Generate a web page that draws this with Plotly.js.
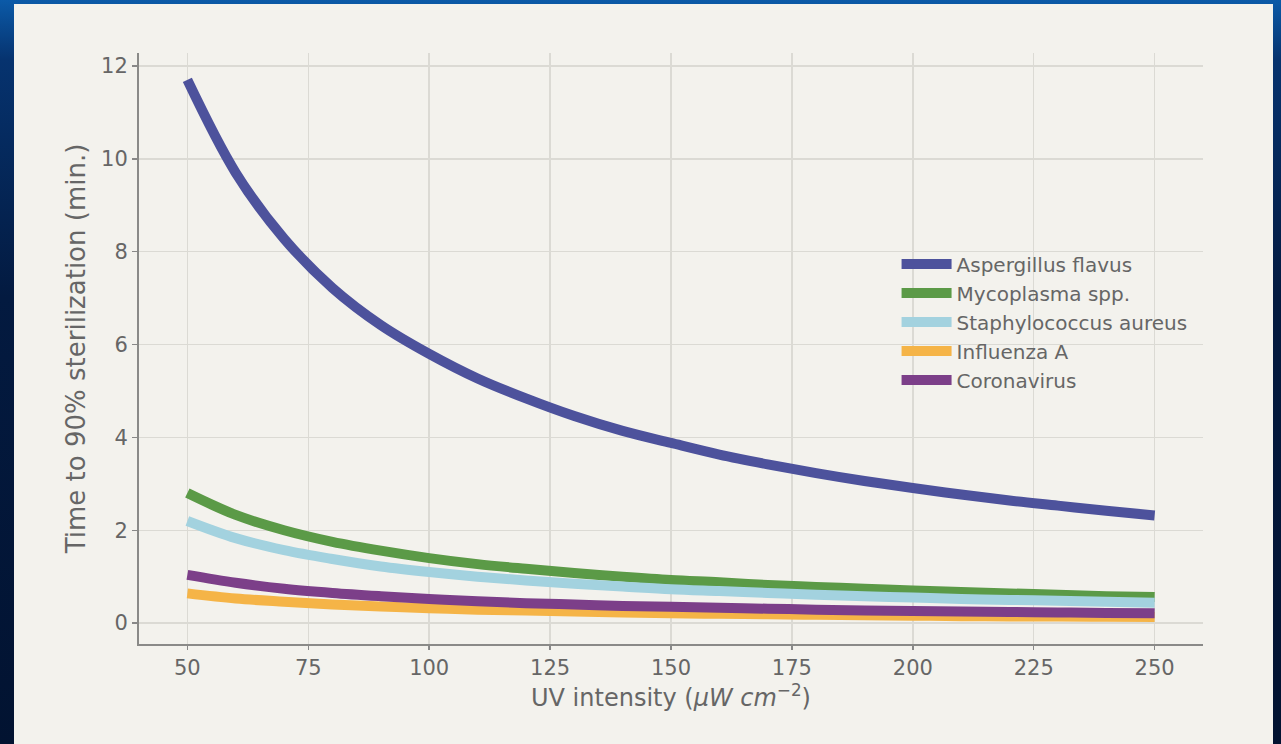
<!DOCTYPE html>
<html>
<head>
<meta charset="utf-8">
<script src="https://cdn.plot.ly/plotly-3.0.1.min.js"></script>
<style>
  html, body { margin:0; padding:0; width:1281px; height:744px; overflow:hidden;
    background: linear-gradient(180deg, #0b5aa8 0%, #06336f 8%, #031a40 40%, #021331 100%); }
  #chart { position:absolute; left:14px; top:4px; width:1259px; height:740px; }
</style>
</head>
<body>
<div id="chart"></div>
<script>
const intensity = [50,60,70,80,90,100,110,120,130,140,150,160,170,180,190,200,210,220,230,240,250];
const seriesNames = ["Aspergillus flavus","Mycoplasma spp.","Staphylococcus aureus","Influenza A","Coronavirus"];
const aspergillus = [11.70,9.70,8.28,7.22,6.42,5.80,5.27,4.84,4.46,4.14,3.88,3.63,3.42,3.23,3.06,2.91,2.77,2.64,2.53,2.42,2.32];
const mycoplasma  = [2.80,2.33,2.00,1.75,1.56,1.40,1.27,1.17,1.08,1.00,0.93,0.88,0.82,0.78,0.74,0.70,0.67,0.64,0.61,0.58,0.56];
const staph       = [2.20,1.83,1.57,1.38,1.22,1.10,1.00,0.92,0.85,0.79,0.73,0.69,0.65,0.61,0.58,0.55,0.52,0.50,0.48,0.46,0.44];
const influenza   = [0.64,0.53,0.46,0.40,0.36,0.32,0.29,0.27,0.25,0.23,0.21,0.20,0.19,0.18,0.17,0.16,0.15,0.145,0.14,0.135,0.13];
const coronavirus = [1.04,0.87,0.74,0.65,0.58,0.52,0.47,0.43,0.40,0.37,0.35,0.33,0.31,0.29,0.27,0.26,0.25,0.24,0.23,0.22,0.21];
const xTicks = [50,75,100,125,150,175,200,225,250];
const yTicks = [0,2,4,6,8,10,12];

const colors = ["#4d529c","#5b9a47","#a3d2df","#f5b447","#7c3f89"];
const values = [aspergillus, mycoplasma, staph, influenza, coronavirus];

const traces = values.map((v,i) => ({
  x: intensity, y: v, name: seriesNames[i], type: 'scatter', mode: 'lines',
  line: {color: colors[i], width: 10, shape: 'spline'}
}));

const txt = '#666666';
const layout = {
  width: 1259, height: 740,
  paper_bgcolor: '#f3f2ed', plot_bgcolor: '#f3f2ed',
  margin: {l:125, r:70, t:49, b:100},
  font: {family: 'DejaVu Sans, sans-serif', size: 20, color: txt},
  showlegend: true,
  legend: {x: 0.712, y: 0.676, xanchor: 'left', yanchor: 'top', bgcolor: 'rgba(0,0,0,0)',
           font: {size: 20, color: txt}, itemwidth: 50, tracegroupgap: 0},
  xaxis: {range: [40, 260], tickvals: xTicks, ticks: 'outside', ticklen: 4, tickwidth: 1.5,
          tickcolor: '#888', showline: true, linecolor: '#8a8a88', linewidth: 2,
          showgrid: true, gridcolor: '#dbdad4', gridwidth: 1.5, zeroline: false,
          tickfont: {size: 21, color: txt},
          title: {text: 'UV intensity (<i>μW cm</i><sup>−2</sup>)', font: {size: 24, color: txt}, standoff: 4}},
  yaxis: {range: [-0.45, 12.28], tickvals: yTicks, ticks: 'outside', ticklen: 5, tickwidth: 1.5,
          tickcolor: '#888', showline: true, linecolor: '#8a8a88', linewidth: 2,
          showgrid: true, gridcolor: '#dbdad4', gridwidth: 1.5, zeroline: false,
          tickfont: {size: 21, color: txt},
          title: {text: 'Time to 90% sterilization (min.)', font: {size: 26, color: txt}, standoff: 8}}
};

Plotly.newPlot('chart', traces, layout, {displayModeBar: false, staticPlot: true});
</script>
</body>
</html>
